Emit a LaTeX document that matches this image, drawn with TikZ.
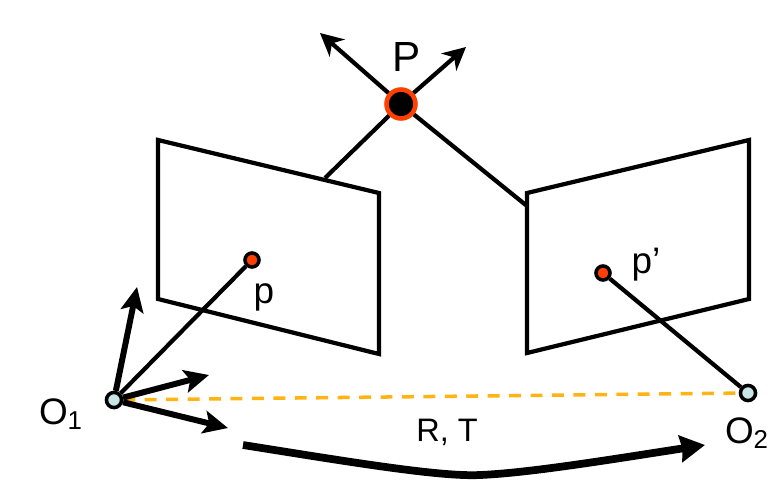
\documentclass[tikz,border=0pt]{standalone}
\usepackage{fontspec}
\setmainfont{Liberation Sans}
\usetikzlibrary{arrows.meta}
\definecolor{ptred}{RGB}{255,64,0}
\definecolor{campale}{RGB}{200,230,230}
\definecolor{baseorange}{RGB}{255,180,20}

\begin{document}
\begin{tikzpicture}[
    x=0.02cm, y=-0.02cm,
    plane/.style={draw, line width=2.4pt, line join=miter, fill=none},
    ray/.style={line width=2.4pt},
    axis/.style={-{Stealth[length=14pt,width=13pt,inset=3pt]}, line width=3.4pt},
    outarr/.style={-{Stealth[length=13pt,width=13pt,inset=4pt]}, line width=2.4pt},
    motion/.style={-{Stealth[length=14pt,width=15pt,inset=1pt]}, line width=4.4pt},
    base/.style={draw=baseorange, line width=2pt, dash pattern=on 6.8pt off 5.4pt},
    world/.style={circle, draw=ptred, fill=black, line width=2.6pt, inner sep=0pt, minimum size=16.5pt},
    image/.style={circle, draw=black, fill=ptred, line width=2pt, inner sep=0pt, minimum size=8pt},
    cam/.style={circle, draw=black, fill=campale, line width=2pt, inner sep=0pt, minimum size=8.6pt}
]
\useasboundingbox (0,0) rectangle (778,491);

\coordinate (a1) at (158,140);
\coordinate (a2) at (379,193);
\coordinate (a3) at (379,354);
\coordinate (a4) at (158,299);
\coordinate (b1) at (527,193);
\coordinate (b2) at (749,140);
\coordinate (b3) at (749,299);
\coordinate (b4) at (527,353);
\coordinate (hit1) at (325,178);
\coordinate (hit2) at (527,206);
\coordinate (up1) at (320,33);
\coordinate (up2) at (466,47);
\coordinate (ax1) at (137,287);
\coordinate (ax2) at (209,375);
\coordinate (ax3) at (228,428);
\coordinate (mstart) at (243,445);
\coordinate (mmid) at (480,475);
\coordinate (mend) at (705,445);

\draw[plane] (a1) -- (a2) -- (a3) -- (a4) -- cycle;
\draw[plane] (b1) -- (b2) -- (b3) -- (b4) -- cycle;

\node[world] (P) at (401,104) {};
\node[image] (p) at (252,260) {};
\node[image] (q) at (603,273) {};
\node[cam] (O1) at (114,400) {};
\node[cam] (O2) at (748,393) {};

\draw[base] (O1) -- (O2);
\draw[ray] (P) -- (hit1);
\draw[ray] (P) -- (hit2);
\draw[ray] (O1) -- (p);
\draw[ray] (O2) -- (q);
\draw[outarr] (P) -- (up1);
\draw[outarr] (P) -- (up2);
\draw[axis] (O1) -- (ax1);
\draw[axis] (O1) -- (ax2);
\draw[axis] (O1) -- (ax3);
\draw[motion] (mstart) .. controls (350,462) and (440,477) .. (mmid) .. controls (530,473) and (620,458) .. (mend);

\node[font=\fontsize{24}{24}\selectfont] (Plabel) at (407,57) {P};
\node[font=\fontsize{21}{21}\selectfont] (plabel) at (264,297) {p};
\node[font=\fontsize{21}{21}\selectfont] (qlabel) at (646,265) {p’};
\node[font=\fontsize{21}{21}\selectfont] (O1label) at (61,414) {O\textsubscript{1}};
\node[font=\fontsize{21}{21}\selectfont] (O2label) at (747,433) {O\textsubscript{2}};
\node[font=\fontsize{18.5}{18.5}\selectfont] (RT) at (447,432) {R, T};
\end{tikzpicture}
\end{document}
